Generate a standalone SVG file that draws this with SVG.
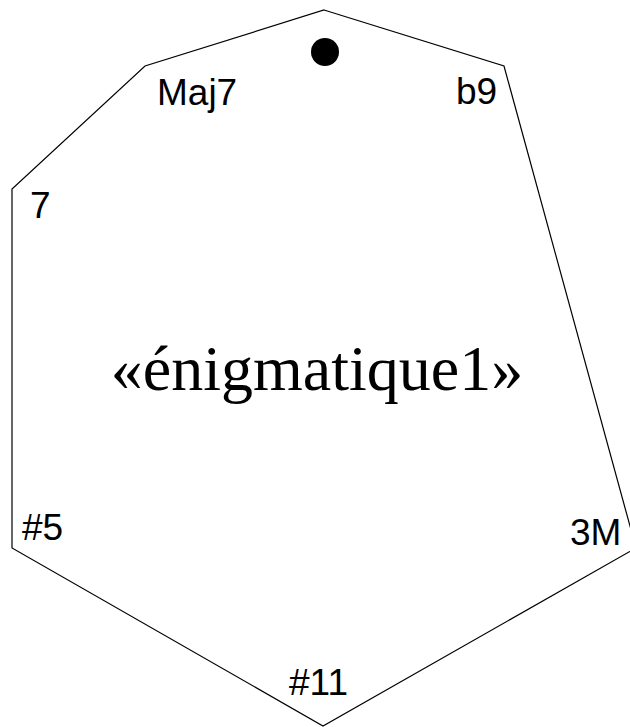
<svg xmlns="http://www.w3.org/2000/svg" width="630" height="727" viewBox="0 0 630 727">
<style>
.lbl{font-family:"Liberation Sans",Arial,sans-serif;font-size:37px;fill:#000}
.title{font-family:"Liberation Serif","Times New Roman",serif;font-size:64px;fill:#000}
</style>
<rect width="630" height="727" fill="#fff"/>
<g id="connectors">
<polygon points="324,10 504,66 636,548 323,726 12,548 12,189 145,66" fill="none" stroke="#000" stroke-width="1.2"/>
</g>
<g id="root"><circle cx="325" cy="52" r="14" fill="#000"/></g>
<g id="n-b9"><text class="lbl" x="456" y="104">b9</text></g>
<g id="n-3M"><text class="lbl" x="570" y="545">3M</text></g>
<g id="n-11"><text class="lbl" x="289" y="695">#11</text></g>
<g id="n-5"><text class="lbl" x="22" y="540">#5</text></g>
<g id="n-7"><text class="lbl" x="30" y="218">7</text></g>
<g id="n-Maj7"><text class="lbl" x="157" y="105">Maj7</text></g>
<g id="title"><text class="title" x="317" y="390" text-anchor="middle">«énigmatique1»</text></g>
</svg>
